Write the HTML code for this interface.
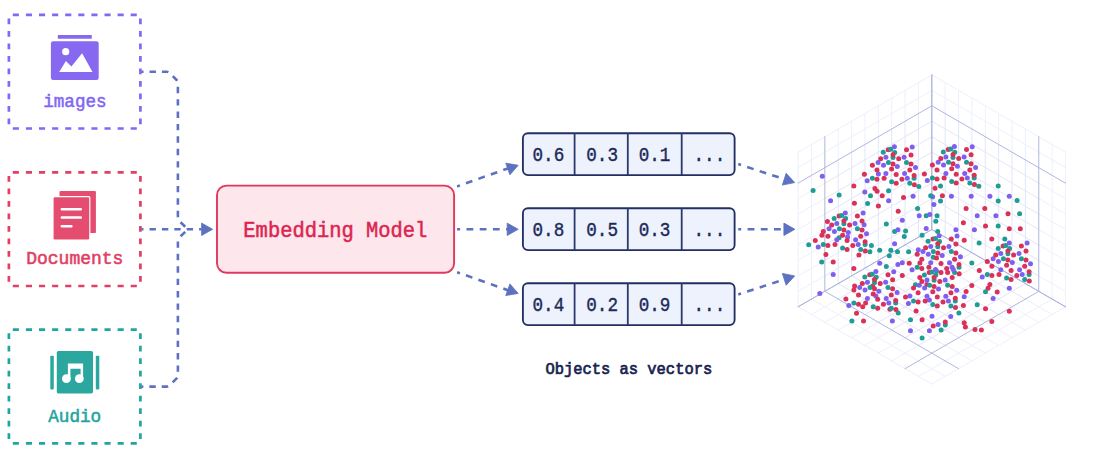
<!DOCTYPE html>
<html lang="en">
<head>
<meta charset="utf-8">
<title>Embedding model: objects as vectors</title>
<style>
html,body{margin:0;padding:0;background:#fff;}
body{width:1099px;height:455px;overflow:hidden;}
svg{display:block;}
svg text{font-family:'Liberation Mono', 'DejaVu Sans Mono', monospace;font-weight:400;paint-order:stroke fill;}
</style>
</head>
<body>
<svg width="1099" height="455" viewBox="0 0 1099 455">
<rect width="1099" height="455" fill="#fff"/>
<g fill="none" stroke="#8568F2" stroke-width="2.7">
<path d="M8.9 14.9H140.4 M8.9 128.5H140.4" stroke-dasharray="6.1 7" stroke-dashoffset="-3.9"/>
<path d="M8.9 14.9V128.5 M140.4 14.9V128.5" stroke-dasharray="5.8 6.7" stroke-dashoffset="-3.6"/>
</g>
<g fill="none" stroke="#E23F66" stroke-width="2.7">
<path d="M8.9 172.3H140.4 M8.9 286H140.4" stroke-dasharray="6.1 7" stroke-dashoffset="-3.9"/>
<path d="M8.9 172.3V286 M140.4 172.3V286" stroke-dasharray="5.8 6.7" stroke-dashoffset="-3.6"/>
</g>
<g fill="none" stroke="#22A5A0" stroke-width="2.7">
<path d="M8.9 329.6H140.4 M8.9 443.4H140.4" stroke-dasharray="6.1 7" stroke-dashoffset="-3.9"/>
<path d="M8.9 329.6V443.4 M140.4 329.6V443.4" stroke-dasharray="5.8 6.7" stroke-dashoffset="-3.6"/>
</g>
<g fill="#8769F1">
<rect x="57.8" y="34.9" width="34" height="3.9" rx="0.6"/>
<rect x="50.9" y="41.2" width="47.8" height="38.8" rx="2.2"/>
</g>
<g fill="#fff">
<circle cx="65.7" cy="51.7" r="3.6"/>
<path d="M59.2 71.9 L65.9 61 L71.4 66.6 L82.1 53.2 L92.5 71.9 Z"/>
</g>
<g fill="#E44C70">
<rect x="59.5" y="190.9" width="36.4" height="42.2" rx="1.2"/>
<rect x="52.4" y="196.1" width="38" height="44.6" rx="1.6" fill="#fff"/>
<rect x="53.6" y="197.3" width="35.6" height="42.2" rx="1.2"/>
</g>
<g stroke="#fff" stroke-width="2.5" stroke-linecap="round">
<path d="M61.8 209.2H80.8M61.8 217.4H80.8M61.8 226.2H71.4"/>
</g>
<g fill="#2BA7A0">
<rect x="56.8" y="350.9" width="36.2" height="42.5" rx="1.6"/>
<rect x="50.3" y="355.8" width="3.5" height="33.6" rx="0.8"/>
<rect x="95.8" y="355.8" width="3.5" height="33.6" rx="0.8"/>
</g>
<g fill="#fff">
<circle cx="66.4" cy="378.7" r="4.4"/>
<circle cx="79.3" cy="378.7" r="4.4"/>
<path d="M67.9 363.4H83.1V378.6H80.6V368.8H70.4V378.6H67.9Z"/>
</g>
<text x="74.9" y="106.5" font-size="17.6" fill="#8266F3" text-anchor="middle" stroke="#8266F3" stroke-width="0.5">images</text>
<text x="74.8" y="264.4" font-size="18" fill="#E13E64" text-anchor="middle" stroke="#E13E64" stroke-width="0.55">Documents</text>
<text x="74.7" y="422" font-size="17.7" fill="#1FA3A0" text-anchor="middle" stroke="#1FA3A0" stroke-width="0.5">Audio</text>
<g fill="none" stroke="#5C71BF" stroke-width="2.6" stroke-dasharray="6.4 6">
<path d="M190.5 229.3 Q188 229.3 186.6 228 L179.2 221 Q177.9 219.8 177.9 217.5 V83 Q177.9 81.2 176.6 80 L169.6 73 Q168.4 71.8 166.5 71.8 H141.4" stroke-dasharray="6.4 6" stroke-dashoffset="6.4"/>
<path d="M190.5 229.3 Q188 229.3 186.6 230.6 L179.2 237.6 Q177.9 238.8 177.9 241 V375.4 Q177.9 377.2 176.6 378.4 L169.6 385.4 Q168.4 386.6 166.5 386.6 H141.4" stroke-dasharray="6.4 6" stroke-dashoffset="6.4"/>
<path d="M201.5 229.3 H141.4" stroke-dashoffset="4"/>
<path d="M457.1 186.4 L508.5 168.2" stroke-dasharray="6.8 6.4" stroke-dashoffset="3.8"/>
<path d="M457.1 229.3 H508" stroke-dasharray="6.8 6.4" stroke-dashoffset="3.8"/>
<path d="M457.1 272.2 L508.5 290.4" stroke-dasharray="6.8 6.4" stroke-dashoffset="3.8"/>
<path d="M738.2 164.1 L785 179.4" stroke-dasharray="6.8 6.4" stroke-dashoffset="3.8"/>
<path d="M738.2 229.3 H785" stroke-dasharray="6.8 6.4" stroke-dashoffset="3.8"/>
<path d="M738.2 294.5 L785 279.2" stroke-dasharray="6.8 6.4" stroke-dashoffset="3.8"/>
</g>
<g fill="#5C71BF" stroke="#5C71BF" stroke-width="0.8" stroke-linejoin="round">
<path d="M212.6 229.3 L201.6 235.5 L201.6 223.1 Z"/>
<path d="M518.2 165.3 L509.9 174.82 L505.76 163.13 Z"/>
<path d="M518.2 229.3 L507.2 235.5 L507.2 223.1 Z"/>
<path d="M518.2 293.4 L505.76 295.57 L509.9 283.88 Z"/>
<path d="M794.7 182.6 L782.32 185.08 L786.17 173.29 Z"/>
<path d="M794.9 229.3 L783.9 235.5 L783.9 223.1 Z"/>
<path d="M794.7 275.9 L786.17 285.21 L782.32 273.42 Z"/>
</g>
<rect x="217" y="185.6" width="237.1" height="87.2" rx="9.5" fill="#FDE6EC" stroke="#E2375D" stroke-width="1.9"/>
<text transform="translate(335.3 236.6) scale(0.96 1)" font-size="21.3" fill="#DC2450" text-anchor="middle" stroke="#DC2450" stroke-width="0.5">Embedding Model</text>
<rect x="522.9" y="133.2" width="211.7" height="41.9" rx="5" fill="#EEF2FC" stroke="#232F62" stroke-width="1.85"/>
<path d="M574.6 133.2V175.1 M627.8 133.2V175.1 M681.7 133.2V175.1" stroke="#2B3A6C" stroke-width="1.8" fill="none"/>
<text transform="translate(548.35 161.2) scale(0.89 1)" font-size="19.8" fill="#1C2A5A" text-anchor="middle" stroke="#1C2A5A" stroke-width="0.4">0.6</text>
<text transform="translate(602.1 161.2) scale(0.89 1)" font-size="19.8" fill="#1C2A5A" text-anchor="middle" stroke="#1C2A5A" stroke-width="0.4">0.3</text>
<text transform="translate(654.55 161.2) scale(0.89 1)" font-size="19.8" fill="#1C2A5A" text-anchor="middle" stroke="#1C2A5A" stroke-width="0.4">0.1</text>
<text transform="translate(709.35 161.2) scale(0.89 1)" font-size="19.8" fill="#1C2A5A" text-anchor="middle" stroke="#1C2A5A" stroke-width="0.4">...</text>
<rect x="522.9" y="208.2" width="211.7" height="41.9" rx="5" fill="#EEF2FC" stroke="#232F62" stroke-width="1.85"/>
<path d="M574.6 208.2V250.1 M627.8 208.2V250.1 M681.7 208.2V250.1" stroke="#2B3A6C" stroke-width="1.8" fill="none"/>
<text transform="translate(548.35 236.2) scale(0.89 1)" font-size="19.8" fill="#1C2A5A" text-anchor="middle" stroke="#1C2A5A" stroke-width="0.4">0.8</text>
<text transform="translate(602.1 236.2) scale(0.89 1)" font-size="19.8" fill="#1C2A5A" text-anchor="middle" stroke="#1C2A5A" stroke-width="0.4">0.5</text>
<text transform="translate(654.55 236.2) scale(0.89 1)" font-size="19.8" fill="#1C2A5A" text-anchor="middle" stroke="#1C2A5A" stroke-width="0.4">0.3</text>
<text transform="translate(709.35 236.2) scale(0.89 1)" font-size="19.8" fill="#1C2A5A" text-anchor="middle" stroke="#1C2A5A" stroke-width="0.4">...</text>
<rect x="522.9" y="283.2" width="211.7" height="41.9" rx="5" fill="#EEF2FC" stroke="#232F62" stroke-width="1.85"/>
<path d="M574.6 283.2V325.1 M627.8 283.2V325.1 M681.7 283.2V325.1" stroke="#2B3A6C" stroke-width="1.8" fill="none"/>
<text transform="translate(548.35 311.2) scale(0.89 1)" font-size="19.8" fill="#1C2A5A" text-anchor="middle" stroke="#1C2A5A" stroke-width="0.4">0.4</text>
<text transform="translate(602.1 311.2) scale(0.89 1)" font-size="19.8" fill="#1C2A5A" text-anchor="middle" stroke="#1C2A5A" stroke-width="0.4">0.2</text>
<text transform="translate(654.55 311.2) scale(0.89 1)" font-size="19.8" fill="#1C2A5A" text-anchor="middle" stroke="#1C2A5A" stroke-width="0.4">0.9</text>
<text transform="translate(709.35 311.2) scale(0.89 1)" font-size="19.8" fill="#1C2A5A" text-anchor="middle" stroke="#1C2A5A" stroke-width="0.4">...</text>
<text transform="translate(628.8 374.4) scale(0.96 1)" font-size="16.1" fill="#16224F" text-anchor="middle" stroke="#16224F" stroke-width="0.7">Objects as vectors</text>
<g fill="none" stroke-linecap="round">
<path d="M918.43 237.23L918.43 113.55" stroke="#E3E6F9" stroke-width="1"/>
<path d="M918.43 113.55L918.43 82.63" stroke="#EEF0FC" stroke-width="1"/>
<path d="M931.8 214.04L824.84 275.88" stroke="#E3E6F9" stroke-width="1"/>
<path d="M824.84 275.88L798.1 291.34" stroke="#EEF0FC" stroke-width="1"/>
<path d="M905.06 244.96L905.06 121.28" stroke="#E3E6F9" stroke-width="1"/>
<path d="M905.06 121.28L905.06 90.36" stroke="#EEF0FC" stroke-width="1"/>
<path d="M931.8 198.58L824.84 260.42" stroke="#E3E6F9" stroke-width="1"/>
<path d="M824.84 260.42L798.1 275.88" stroke="#EEF0FC" stroke-width="1"/>
<path d="M891.69 252.69L891.69 129.01" stroke="#E3E6F9" stroke-width="1"/>
<path d="M891.69 129.01L891.69 98.09" stroke="#EEF0FC" stroke-width="1"/>
<path d="M931.8 183.12L824.84 244.96" stroke="#E3E6F9" stroke-width="1"/>
<path d="M824.84 244.96L798.1 260.42" stroke="#EEF0FC" stroke-width="1"/>
<path d="M878.32 260.42L878.32 136.74" stroke="#E3E6F9" stroke-width="1"/>
<path d="M878.32 136.74L878.32 105.82" stroke="#EEF0FC" stroke-width="1"/>
<path d="M931.8 167.66L824.84 229.5" stroke="#E3E6F9" stroke-width="1"/>
<path d="M824.84 229.5L798.1 244.96" stroke="#EEF0FC" stroke-width="1"/>
<path d="M864.95 268.15L864.95 144.47" stroke="#E3E6F9" stroke-width="1"/>
<path d="M864.95 144.47L864.95 113.55" stroke="#EEF0FC" stroke-width="1"/>
<path d="M931.8 152.2L824.84 214.04" stroke="#E3E6F9" stroke-width="1"/>
<path d="M824.84 214.04L798.1 229.5" stroke="#EEF0FC" stroke-width="1"/>
<path d="M851.58 275.88L851.58 152.2" stroke="#E3E6F9" stroke-width="1"/>
<path d="M851.58 152.2L851.58 121.28" stroke="#EEF0FC" stroke-width="1"/>
<path d="M931.8 136.74L824.84 198.58" stroke="#E3E6F9" stroke-width="1"/>
<path d="M824.84 198.58L798.1 214.04" stroke="#EEF0FC" stroke-width="1"/>
<path d="M838.21 283.61L838.21 159.93" stroke="#E3E6F9" stroke-width="1"/>
<path d="M838.21 159.93L838.21 129.01" stroke="#EEF0FC" stroke-width="1"/>
<path d="M931.8 121.28L824.84 183.12" stroke="#E3E6F9" stroke-width="1"/>
<path d="M824.84 183.12L798.1 198.58" stroke="#EEF0FC" stroke-width="1"/>
<path d="M811.47 299.07L811.47 175.39" stroke="#EEF0FC" stroke-width="1"/>
<path d="M811.47 175.39L811.47 144.47" stroke="#EEF0FC" stroke-width="1"/>
<path d="M931.8 90.36L824.84 152.2" stroke="#EEF0FC" stroke-width="1"/>
<path d="M824.84 152.2L798.1 167.66" stroke="#EEF0FC" stroke-width="1"/>
<path d="M798.1 306.8L798.1 183.12" stroke="#EEF0FC" stroke-width="1"/>
<path d="M798.1 183.12L798.1 152.2" stroke="#EEF0FC" stroke-width="1"/>
<path d="M931.8 74.9L824.84 136.74" stroke="#EEF0FC" stroke-width="1"/>
<path d="M824.84 136.74L798.1 152.2" stroke="#EEF0FC" stroke-width="1"/>
<path d="M945.17 237.23L945.17 113.55" stroke="#E3E6F9" stroke-width="1"/>
<path d="M945.17 113.55L945.17 82.63" stroke="#EEF0FC" stroke-width="1"/>
<path d="M931.8 214.04L1038.76 275.88" stroke="#E3E6F9" stroke-width="1"/>
<path d="M1038.76 275.88L1065.5 291.34" stroke="#EEF0FC" stroke-width="1"/>
<path d="M958.54 244.96L958.54 121.28" stroke="#E3E6F9" stroke-width="1"/>
<path d="M958.54 121.28L958.54 90.36" stroke="#EEF0FC" stroke-width="1"/>
<path d="M931.8 198.58L1038.76 260.42" stroke="#E3E6F9" stroke-width="1"/>
<path d="M1038.76 260.42L1065.5 275.88" stroke="#EEF0FC" stroke-width="1"/>
<path d="M971.91 252.69L971.91 129.01" stroke="#E3E6F9" stroke-width="1"/>
<path d="M971.91 129.01L971.91 98.09" stroke="#EEF0FC" stroke-width="1"/>
<path d="M931.8 183.12L1038.76 244.96" stroke="#E3E6F9" stroke-width="1"/>
<path d="M1038.76 244.96L1065.5 260.42" stroke="#EEF0FC" stroke-width="1"/>
<path d="M985.28 260.42L985.28 136.74" stroke="#E3E6F9" stroke-width="1"/>
<path d="M985.28 136.74L985.28 105.82" stroke="#EEF0FC" stroke-width="1"/>
<path d="M931.8 167.66L1038.76 229.5" stroke="#E3E6F9" stroke-width="1"/>
<path d="M1038.76 229.5L1065.5 244.96" stroke="#EEF0FC" stroke-width="1"/>
<path d="M998.65 268.15L998.65 144.47" stroke="#E3E6F9" stroke-width="1"/>
<path d="M998.65 144.47L998.65 113.55" stroke="#EEF0FC" stroke-width="1"/>
<path d="M931.8 152.2L1038.76 214.04" stroke="#E3E6F9" stroke-width="1"/>
<path d="M1038.76 214.04L1065.5 229.5" stroke="#EEF0FC" stroke-width="1"/>
<path d="M1012.02 275.88L1012.02 152.2" stroke="#E3E6F9" stroke-width="1"/>
<path d="M1012.02 152.2L1012.02 121.28" stroke="#EEF0FC" stroke-width="1"/>
<path d="M931.8 136.74L1038.76 198.58" stroke="#E3E6F9" stroke-width="1"/>
<path d="M1038.76 198.58L1065.5 214.04" stroke="#EEF0FC" stroke-width="1"/>
<path d="M1025.39 283.61L1025.39 159.93" stroke="#E3E6F9" stroke-width="1"/>
<path d="M1025.39 159.93L1025.39 129.01" stroke="#EEF0FC" stroke-width="1"/>
<path d="M931.8 121.28L1038.76 183.12" stroke="#E3E6F9" stroke-width="1"/>
<path d="M1038.76 183.12L1065.5 198.58" stroke="#EEF0FC" stroke-width="1"/>
<path d="M1052.13 299.07L1052.13 175.39" stroke="#EEF0FC" stroke-width="1"/>
<path d="M1052.13 175.39L1052.13 144.47" stroke="#EEF0FC" stroke-width="1"/>
<path d="M931.8 90.36L1038.76 152.2" stroke="#EEF0FC" stroke-width="1"/>
<path d="M1038.76 152.2L1065.5 167.66" stroke="#EEF0FC" stroke-width="1"/>
<path d="M1065.5 306.8L1065.5 183.12" stroke="#EEF0FC" stroke-width="1"/>
<path d="M1065.5 183.12L1065.5 152.2" stroke="#EEF0FC" stroke-width="1"/>
<path d="M931.8 74.9L1038.76 136.74" stroke="#EEF0FC" stroke-width="1"/>
<path d="M1038.76 136.74L1065.5 152.2" stroke="#EEF0FC" stroke-width="1"/>
<path d="M918.43 237.23L1025.39 299.07" stroke="#E3E6F9" stroke-width="1"/>
<path d="M1025.39 299.07L1052.13 314.53" stroke="#EEF0FC" stroke-width="1"/>
<path d="M945.17 237.23L838.21 299.07" stroke="#E3E6F9" stroke-width="1"/>
<path d="M838.21 299.07L811.47 314.53" stroke="#EEF0FC" stroke-width="1"/>
<path d="M905.06 244.96L1012.02 306.8" stroke="#E3E6F9" stroke-width="1"/>
<path d="M1012.02 306.8L1038.76 322.26" stroke="#EEF0FC" stroke-width="1"/>
<path d="M958.54 244.96L851.58 306.8" stroke="#E3E6F9" stroke-width="1"/>
<path d="M851.58 306.8L824.84 322.26" stroke="#EEF0FC" stroke-width="1"/>
<path d="M891.69 252.69L998.65 314.53" stroke="#E3E6F9" stroke-width="1"/>
<path d="M998.65 314.53L1025.39 329.99" stroke="#EEF0FC" stroke-width="1"/>
<path d="M971.91 252.69L864.95 314.53" stroke="#E3E6F9" stroke-width="1"/>
<path d="M864.95 314.53L838.21 329.99" stroke="#EEF0FC" stroke-width="1"/>
<path d="M878.32 260.42L985.28 322.26" stroke="#E3E6F9" stroke-width="1"/>
<path d="M985.28 322.26L1012.02 337.72" stroke="#EEF0FC" stroke-width="1"/>
<path d="M985.28 260.42L878.32 322.26" stroke="#E3E6F9" stroke-width="1"/>
<path d="M878.32 322.26L851.58 337.72" stroke="#EEF0FC" stroke-width="1"/>
<path d="M864.95 268.15L971.91 329.99" stroke="#E3E6F9" stroke-width="1"/>
<path d="M971.91 329.99L998.65 345.45" stroke="#EEF0FC" stroke-width="1"/>
<path d="M998.65 268.15L891.69 329.99" stroke="#E3E6F9" stroke-width="1"/>
<path d="M891.69 329.99L864.95 345.45" stroke="#EEF0FC" stroke-width="1"/>
<path d="M851.58 275.88L958.54 337.72" stroke="#E3E6F9" stroke-width="1"/>
<path d="M958.54 337.72L985.28 353.18" stroke="#EEF0FC" stroke-width="1"/>
<path d="M1012.02 275.88L905.06 337.72" stroke="#E3E6F9" stroke-width="1"/>
<path d="M905.06 337.72L878.32 353.18" stroke="#EEF0FC" stroke-width="1"/>
<path d="M838.21 283.61L945.17 345.45" stroke="#E3E6F9" stroke-width="1"/>
<path d="M945.17 345.45L971.91 360.91" stroke="#EEF0FC" stroke-width="1"/>
<path d="M1025.39 283.61L918.43 345.45" stroke="#E3E6F9" stroke-width="1"/>
<path d="M918.43 345.45L891.69 360.91" stroke="#EEF0FC" stroke-width="1"/>
<path d="M811.47 299.07L918.43 360.91" stroke="#EEF0FC" stroke-width="1"/>
<path d="M918.43 360.91L945.17 376.37" stroke="#EEF0FC" stroke-width="1"/>
<path d="M1052.13 299.07L945.17 360.91" stroke="#EEF0FC" stroke-width="1"/>
<path d="M945.17 360.91L918.43 376.37" stroke="#EEF0FC" stroke-width="1"/>
<path d="M798.1 306.8L905.06 368.64" stroke="#EEF0FC" stroke-width="1"/>
<path d="M905.06 368.64L931.8 384.1" stroke="#EEF0FC" stroke-width="1"/>
<path d="M1065.5 306.8L958.54 368.64" stroke="#EEF0FC" stroke-width="1"/>
<path d="M958.54 368.64L931.8 384.1" stroke="#EEF0FC" stroke-width="1"/>
<path d="M931.8 229.5L931.8 74.9" stroke="#AFB7E0" stroke-width="1"/>
<path d="M931.8 229.5L798.1 306.8" stroke="#AFB7E0" stroke-width="1"/>
<path d="M824.84 291.34L824.84 136.74" stroke="#AFB7E0" stroke-width="1"/>
<path d="M931.8 105.82L798.1 183.12" stroke="#AFB7E0" stroke-width="1"/>
<path d="M931.8 229.5L931.8 74.9" stroke="#AFB7E0" stroke-width="1"/>
<path d="M931.8 229.5L1065.5 306.8" stroke="#AFB7E0" stroke-width="1"/>
<path d="M1038.76 291.34L1038.76 136.74" stroke="#AFB7E0" stroke-width="1"/>
<path d="M931.8 105.82L1065.5 183.12" stroke="#AFB7E0" stroke-width="1"/>
<path d="M931.8 229.5L1065.5 306.8" stroke="#AFB7E0" stroke-width="1"/>
<path d="M931.8 229.5L798.1 306.8" stroke="#AFB7E0" stroke-width="1"/>
<path d="M824.84 291.34L958.54 368.64" stroke="#AFB7E0" stroke-width="1"/>
<path d="M1038.76 291.34L905.06 368.64" stroke="#AFB7E0" stroke-width="1"/>
</g>
<g>
<circle cx="822.3" cy="176.2" r="2.5" fill="#7E5FF0"/>
<circle cx="813.1" cy="190.5" r="2.5" fill="#1F9D95"/>
<circle cx="853.8" cy="186" r="2.5" fill="#DB3058"/>
<circle cx="878.4" cy="173.9" r="2.5" fill="#7E5FF0"/>
<circle cx="864.8" cy="192.1" r="2.5" fill="#7E5FF0"/>
<circle cx="888.6" cy="190.7" r="2.5" fill="#1F9D95"/>
<circle cx="830.6" cy="200.8" r="2.5" fill="#7E5FF0"/>
<circle cx="839.1" cy="195" r="2.5" fill="#1F9D95"/>
<circle cx="854.4" cy="203.3" r="2.5" fill="#DB3058"/>
<circle cx="867.6" cy="203.6" r="2.5" fill="#1F9D95"/>
<circle cx="870.5" cy="195.7" r="2.5" fill="#1F9D95"/>
<circle cx="877.1" cy="191.2" r="2.5" fill="#DB3058"/>
<circle cx="882.2" cy="195.7" r="2.5" fill="#DB3058"/>
<circle cx="878.4" cy="206.1" r="2.5" fill="#DB3058"/>
<circle cx="888.6" cy="200.8" r="2.5" fill="#7E5FF0"/>
<circle cx="903.5" cy="197.6" r="2.5" fill="#DB3058"/>
<circle cx="898.2" cy="211.2" r="2.5" fill="#DB3058"/>
<circle cx="913.1" cy="196.3" r="2.5" fill="#7E5FF0"/>
<circle cx="917.6" cy="208.4" r="2.5" fill="#1F9D95"/>
<circle cx="932.6" cy="196.7" r="2.5" fill="#7E5FF0"/>
<circle cx="930.7" cy="195.7" r="2.5" fill="#1F9D95"/>
<circle cx="933.9" cy="204.6" r="2.5" fill="#7E5FF0"/>
<circle cx="919.2" cy="215.7" r="2.5" fill="#7E5FF0"/>
<circle cx="926.2" cy="215.7" r="2.5" fill="#1F9D95"/>
<circle cx="929.7" cy="214.4" r="2.5" fill="#7E5FF0"/>
<circle cx="937.1" cy="215.7" r="2.5" fill="#1F9D95"/>
<circle cx="935.8" cy="221.2" r="2.5" fill="#1F9D95"/>
<circle cx="902.3" cy="220.3" r="2.5" fill="#7E5FF0"/>
<circle cx="886.3" cy="224.1" r="2.5" fill="#1F9D95"/>
<circle cx="894.6" cy="231.4" r="2.5" fill="#1F9D95"/>
<circle cx="897.9" cy="229.7" r="2.5" fill="#7E5FF0"/>
<circle cx="905.6" cy="231.1" r="2.5" fill="#1F9D95"/>
<circle cx="904.3" cy="236.5" r="2.5" fill="#1F9D95"/>
<circle cx="926.2" cy="228.5" r="2.5" fill="#7E5FF0"/>
<circle cx="922.1" cy="235.2" r="2.5" fill="#1F9D95"/>
<circle cx="894.6" cy="243.7" r="2.5" fill="#7E5FF0"/>
<circle cx="937.7" cy="231.4" r="2.5" fill="#1F9D95"/>
<circle cx="827.4" cy="221.4" r="2.5" fill="#DB3058"/>
<circle cx="864.1" cy="224.7" r="2.5" fill="#7E5FF0"/>
<circle cx="821.9" cy="235.2" r="2.5" fill="#DB3058"/>
<circle cx="839.1" cy="237.7" r="2.5" fill="#1F9D95"/>
<circle cx="847.6" cy="237.1" r="2.5" fill="#7E5FF0"/>
<circle cx="808.7" cy="244.7" r="2.5" fill="#1F9D95"/>
<circle cx="871.4" cy="245.4" r="2.5" fill="#1F9D95"/>
<circle cx="869.9" cy="251.8" r="2.5" fill="#1F9D95"/>
<circle cx="879.7" cy="250.2" r="2.5" fill="#1F9D95"/>
<circle cx="890.8" cy="250.2" r="2.5" fill="#1F9D95"/>
<circle cx="889.3" cy="255.7" r="2.5" fill="#1F9D95"/>
<circle cx="897.5" cy="251.8" r="2.5" fill="#1F9D95"/>
<circle cx="908.6" cy="251.8" r="2.5" fill="#1F9D95"/>
<circle cx="858.9" cy="255" r="2.5" fill="#DB3058"/>
<circle cx="821.7" cy="262" r="2.5" fill="#1F9D95"/>
<circle cx="833.2" cy="262" r="2.5" fill="#DB3058"/>
<circle cx="853.8" cy="268.4" r="2.5" fill="#DB3058"/>
<circle cx="833.2" cy="274.4" r="2.5" fill="#7E5FF0"/>
<circle cx="819.8" cy="293.5" r="2.5" fill="#7E5FF0"/>
<circle cx="879.7" cy="263.3" r="2.5" fill="#7E5FF0"/>
<circle cx="886.3" cy="266.5" r="2.5" fill="#1F9D95"/>
<circle cx="897.9" cy="264.6" r="2.5" fill="#7E5FF0"/>
<circle cx="902.3" cy="262.7" r="2.5" fill="#7E5FF0"/>
<circle cx="902.3" cy="275.4" r="2.5" fill="#DB3058"/>
<circle cx="854.6" cy="285.9" r="2.5" fill="#DB3058"/>
<circle cx="872.7" cy="285.9" r="2.5" fill="#DB3058"/>
<circle cx="875.9" cy="296.1" r="2.5" fill="#7E5FF0"/>
<circle cx="909.9" cy="296.1" r="2.5" fill="#7E5FF0"/>
<circle cx="918.3" cy="249.7" r="2.5" fill="#7E5FF0"/>
<circle cx="919.9" cy="262.9" r="2.5" fill="#DB3058"/>
<circle cx="933.2" cy="257.3" r="2.5" fill="#1F9D95"/>
<circle cx="915.4" cy="284.7" r="2.5" fill="#1F9D95"/>
<circle cx="926.9" cy="284.6" r="2.5" fill="#DB3058"/>
<circle cx="929.4" cy="300.1" r="2.5" fill="#7E5FF0"/>
<circle cx="862.7" cy="306.8" r="2.5" fill="#DB3058"/>
<circle cx="889.9" cy="309.3" r="2.5" fill="#DB3058"/>
<circle cx="898.2" cy="313.1" r="2.5" fill="#1F9D95"/>
<circle cx="851.9" cy="321" r="2.5" fill="#1F9D95"/>
<circle cx="863.5" cy="321" r="2.5" fill="#DB3058"/>
<circle cx="892.4" cy="321" r="2.5" fill="#7E5FF0"/>
<circle cx="910.5" cy="319.8" r="2.5" fill="#1F9D95"/>
<circle cx="922.1" cy="319.8" r="2.5" fill="#DB3058"/>
<circle cx="932" cy="316.3" r="2.5" fill="#7E5FF0"/>
<circle cx="933.2" cy="326.1" r="2.5" fill="#DB3058"/>
<circle cx="938.1" cy="324.6" r="2.5" fill="#7E5FF0"/>
<circle cx="910.5" cy="330.7" r="2.5" fill="#7E5FF0"/>
<circle cx="929.4" cy="330.7" r="2.5" fill="#7E5FF0"/>
<circle cx="922.1" cy="338" r="2.5" fill="#1F9D95"/>
<circle cx="998.2" cy="186" r="2.5" fill="#1F9D95"/>
<circle cx="940.5" cy="186" r="2.5" fill="#1F9D95"/>
<circle cx="942.4" cy="195.7" r="2.5" fill="#DB3058"/>
<circle cx="940.5" cy="201.1" r="2.5" fill="#1F9D95"/>
<circle cx="951.4" cy="196.3" r="2.5" fill="#7E5FF0"/>
<circle cx="971.2" cy="196.3" r="2.5" fill="#7E5FF0"/>
<circle cx="989.9" cy="196.3" r="2.5" fill="#7E5FF0"/>
<circle cx="1009.3" cy="196.3" r="2.5" fill="#7E5FF0"/>
<circle cx="998.2" cy="201.1" r="2.5" fill="#1F9D95"/>
<circle cx="1017.1" cy="200.4" r="2.5" fill="#1F9D95"/>
<circle cx="966.1" cy="208.4" r="2.5" fill="#DB3058"/>
<circle cx="984.8" cy="208.4" r="2.5" fill="#DB3058"/>
<circle cx="1008" cy="213.8" r="2.5" fill="#DB3058"/>
<circle cx="1019.6" cy="213.8" r="2.5" fill="#1F9D95"/>
<circle cx="977.2" cy="215.7" r="2.5" fill="#7E5FF0"/>
<circle cx="995.9" cy="215.7" r="2.5" fill="#7E5FF0"/>
<circle cx="963.4" cy="222.7" r="2.5" fill="#DB3058"/>
<circle cx="985.5" cy="225.9" r="2.5" fill="#DB3058"/>
<circle cx="998.2" cy="225.9" r="2.5" fill="#1F9D95"/>
<circle cx="1009.3" cy="228.8" r="2.5" fill="#DB3058"/>
<circle cx="1020.3" cy="228.8" r="2.5" fill="#DB3058"/>
<circle cx="955.9" cy="229.7" r="2.5" fill="#7E5FF0"/>
<circle cx="974.4" cy="229.7" r="2.5" fill="#7E5FF0"/>
<circle cx="964.2" cy="240.3" r="2.5" fill="#DB3058"/>
<circle cx="991.8" cy="239" r="2.5" fill="#DB3058"/>
<circle cx="1004.8" cy="239" r="2.5" fill="#1F9D95"/>
<circle cx="979.1" cy="243.1" r="2.5" fill="#1F9D95"/>
<circle cx="971.8" cy="262.9" r="2.5" fill="#1F9D95"/>
<circle cx="971.8" cy="285.4" r="2.5" fill="#DB3058"/>
<circle cx="988" cy="288.2" r="2.5" fill="#DB3058"/>
<circle cx="985.5" cy="291.7" r="2.5" fill="#1F9D95"/>
<circle cx="997.2" cy="292" r="2.5" fill="#DB3058"/>
<circle cx="966.1" cy="291.4" r="2.5" fill="#DB3058"/>
<circle cx="964.2" cy="296.7" r="2.5" fill="#7E5FF0"/>
<circle cx="1009.3" cy="288.2" r="2.5" fill="#7E5FF0"/>
<circle cx="993.1" cy="298.6" r="2.5" fill="#7E5FF0"/>
<circle cx="963.4" cy="305.5" r="2.5" fill="#DB3058"/>
<circle cx="977.2" cy="304.8" r="2.5" fill="#1F9D95"/>
<circle cx="985.5" cy="308.7" r="2.5" fill="#DB3058"/>
<circle cx="958.9" cy="313.1" r="2.5" fill="#1F9D95"/>
<circle cx="950.7" cy="316.6" r="2.5" fill="#7E5FF0"/>
<circle cx="1009.3" cy="311.2" r="2.5" fill="#DB3058"/>
<circle cx="991.8" cy="321.4" r="2.5" fill="#DB3058"/>
<circle cx="945.3" cy="324.9" r="2.5" fill="#1F9D95"/>
<circle cx="945.3" cy="322.1" r="2.5" fill="#DB3058"/>
<circle cx="941.1" cy="330" r="2.5" fill="#1F9D95"/>
<circle cx="964.2" cy="322.7" r="2.5" fill="#DB3058"/>
<circle cx="965.4" cy="326.9" r="2.5" fill="#DB3058"/>
<circle cx="975" cy="329.4" r="2.5" fill="#DB3058"/>
<circle cx="981.4" cy="330.1" r="2.5" fill="#DB3058"/>
<circle cx="918.8" cy="186.5" r="2.5" fill="#1F9D95"/>
<circle cx="978.8" cy="186.3" r="2.5" fill="#1F9D95"/>
<circle cx="864.4" cy="174.2" r="2.5" fill="#DB3058"/>
<circle cx="867.2" cy="180.7" r="2.5" fill="#7E5FF0"/>
<circle cx="872.4" cy="178.2" r="2.5" fill="#1F9D95"/>
<circle cx="874.9" cy="188.4" r="2.5" fill="#DB3058"/>
<circle cx="872.4" cy="165.2" r="2.5" fill="#DB3058"/>
<circle cx="877" cy="170.1" r="2.5" fill="#DB3058"/>
<circle cx="877" cy="179.3" r="2.5" fill="#DB3058"/>
<circle cx="878.1" cy="162.5" r="2.5" fill="#7E5FF0"/>
<circle cx="880.7" cy="158.7" r="2.5" fill="#DB3058"/>
<circle cx="883.3" cy="152.2" r="2.5" fill="#1F9D95"/>
<circle cx="883.5" cy="165.2" r="2.5" fill="#7E5FF0"/>
<circle cx="884.1" cy="178.2" r="2.5" fill="#DB3058"/>
<circle cx="885.9" cy="157.3" r="2.5" fill="#7E5FF0"/>
<circle cx="885.9" cy="173.6" r="2.5" fill="#7E5FF0"/>
<circle cx="888.2" cy="149.8" r="2.5" fill="#DB3058"/>
<circle cx="890.7" cy="149.3" r="2.5" fill="#1F9D95"/>
<circle cx="888.4" cy="162.5" r="2.5" fill="#1F9D95"/>
<circle cx="891.6" cy="169" r="2.5" fill="#DB3058"/>
<circle cx="891.6" cy="181.8" r="2.5" fill="#1F9D95"/>
<circle cx="894.7" cy="152.4" r="2.5" fill="#1F9D95"/>
<circle cx="893" cy="157.6" r="2.5" fill="#1F9D95"/>
<circle cx="893" cy="154.7" r="2.5" fill="#DB3058"/>
<circle cx="893" cy="163.9" r="2.5" fill="#DB3058"/>
<circle cx="894.4" cy="146.7" r="2.5" fill="#7E5FF0"/>
<circle cx="896.2" cy="174.4" r="2.5" fill="#DB3058"/>
<circle cx="896.2" cy="183.3" r="2.5" fill="#DB3058"/>
<circle cx="897.3" cy="166.4" r="2.5" fill="#7E5FF0"/>
<circle cx="898.7" cy="158.7" r="2.5" fill="#DB3058"/>
<circle cx="901.9" cy="179.3" r="2.5" fill="#DB3058"/>
<circle cx="904.1" cy="157.3" r="2.5" fill="#7E5FF0"/>
<circle cx="904.6" cy="173.6" r="2.5" fill="#7E5FF0"/>
<circle cx="906.5" cy="149.8" r="2.5" fill="#DB3058"/>
<circle cx="906.5" cy="162.5" r="2.5" fill="#1F9D95"/>
<circle cx="907.3" cy="178.2" r="2.5" fill="#7E5FF0"/>
<circle cx="909.8" cy="170.1" r="2.5" fill="#DB3058"/>
<circle cx="909.8" cy="183.3" r="2.5" fill="#1F9D95"/>
<circle cx="911" cy="154.9" r="2.5" fill="#DB3058"/>
<circle cx="911" cy="163.9" r="2.5" fill="#DB3058"/>
<circle cx="912.2" cy="146.9" r="2.5" fill="#7E5FF0"/>
<circle cx="914.1" cy="178.2" r="2.5" fill="#1F9D95"/>
<circle cx="914.1" cy="175.5" r="2.5" fill="#DB3058"/>
<circle cx="914.4" cy="184.7" r="2.5" fill="#DB3058"/>
<circle cx="915.5" cy="167.6" r="2.5" fill="#7E5FF0"/>
<circle cx="924.4" cy="174" r="2.5" fill="#DB3058"/>
<circle cx="927.3" cy="180.5" r="2.5" fill="#7E5FF0"/>
<circle cx="932.4" cy="178" r="2.5" fill="#1F9D95"/>
<circle cx="935" cy="188.2" r="2.5" fill="#DB3058"/>
<circle cx="932.4" cy="165" r="2.5" fill="#DB3058"/>
<circle cx="937" cy="169.9" r="2.5" fill="#DB3058"/>
<circle cx="937" cy="179.1" r="2.5" fill="#DB3058"/>
<circle cx="938.2" cy="162.3" r="2.5" fill="#7E5FF0"/>
<circle cx="940.8" cy="158.5" r="2.5" fill="#DB3058"/>
<circle cx="943.3" cy="152" r="2.5" fill="#1F9D95"/>
<circle cx="943.5" cy="165" r="2.5" fill="#7E5FF0"/>
<circle cx="944.1" cy="178" r="2.5" fill="#DB3058"/>
<circle cx="945.9" cy="157.1" r="2.5" fill="#7E5FF0"/>
<circle cx="945.9" cy="173.4" r="2.5" fill="#7E5FF0"/>
<circle cx="948.2" cy="149.6" r="2.5" fill="#DB3058"/>
<circle cx="950.7" cy="149.1" r="2.5" fill="#1F9D95"/>
<circle cx="948.5" cy="162.3" r="2.5" fill="#1F9D95"/>
<circle cx="951.7" cy="168.8" r="2.5" fill="#DB3058"/>
<circle cx="951.7" cy="181.6" r="2.5" fill="#1F9D95"/>
<circle cx="954.7" cy="152.2" r="2.5" fill="#1F9D95"/>
<circle cx="953" cy="157.4" r="2.5" fill="#1F9D95"/>
<circle cx="953" cy="154.5" r="2.5" fill="#DB3058"/>
<circle cx="953" cy="163.7" r="2.5" fill="#DB3058"/>
<circle cx="954.4" cy="146.5" r="2.5" fill="#7E5FF0"/>
<circle cx="956.2" cy="174.2" r="2.5" fill="#DB3058"/>
<circle cx="956.2" cy="183.1" r="2.5" fill="#DB3058"/>
<circle cx="957.4" cy="166.2" r="2.5" fill="#7E5FF0"/>
<circle cx="958.7" cy="158.5" r="2.5" fill="#DB3058"/>
<circle cx="961.9" cy="179.1" r="2.5" fill="#DB3058"/>
<circle cx="964.1" cy="157.1" r="2.5" fill="#7E5FF0"/>
<circle cx="964.7" cy="173.4" r="2.5" fill="#7E5FF0"/>
<circle cx="966.5" cy="149.6" r="2.5" fill="#DB3058"/>
<circle cx="966.5" cy="162.3" r="2.5" fill="#1F9D95"/>
<circle cx="967.3" cy="178" r="2.5" fill="#7E5FF0"/>
<circle cx="969.8" cy="169.9" r="2.5" fill="#DB3058"/>
<circle cx="969.8" cy="183.1" r="2.5" fill="#1F9D95"/>
<circle cx="971.1" cy="154.7" r="2.5" fill="#DB3058"/>
<circle cx="971.1" cy="163.7" r="2.5" fill="#DB3058"/>
<circle cx="972.2" cy="146.7" r="2.5" fill="#7E5FF0"/>
<circle cx="974.2" cy="178" r="2.5" fill="#1F9D95"/>
<circle cx="974.2" cy="175.3" r="2.5" fill="#DB3058"/>
<circle cx="974.4" cy="184.5" r="2.5" fill="#DB3058"/>
<circle cx="975.6" cy="167.4" r="2.5" fill="#7E5FF0"/>
<circle cx="815.3" cy="240.4" r="2.5" fill="#DB3058"/>
<circle cx="818.2" cy="246.9" r="2.5" fill="#7E5FF0"/>
<circle cx="823.3" cy="244.4" r="2.5" fill="#1F9D95"/>
<circle cx="825.9" cy="254.6" r="2.5" fill="#DB3058"/>
<circle cx="823.3" cy="231.4" r="2.5" fill="#DB3058"/>
<circle cx="827.9" cy="236.3" r="2.5" fill="#DB3058"/>
<circle cx="827.9" cy="245.5" r="2.5" fill="#DB3058"/>
<circle cx="829.1" cy="228.7" r="2.5" fill="#7E5FF0"/>
<circle cx="831.7" cy="224.9" r="2.5" fill="#DB3058"/>
<circle cx="834.2" cy="218.4" r="2.5" fill="#1F9D95"/>
<circle cx="834.4" cy="231.4" r="2.5" fill="#7E5FF0"/>
<circle cx="835" cy="244.4" r="2.5" fill="#DB3058"/>
<circle cx="836.8" cy="223.5" r="2.5" fill="#7E5FF0"/>
<circle cx="836.8" cy="239.8" r="2.5" fill="#7E5FF0"/>
<circle cx="839.1" cy="216" r="2.5" fill="#DB3058"/>
<circle cx="841.6" cy="215.5" r="2.5" fill="#1F9D95"/>
<circle cx="839.4" cy="228.7" r="2.5" fill="#1F9D95"/>
<circle cx="842.6" cy="235.2" r="2.5" fill="#DB3058"/>
<circle cx="842.6" cy="248" r="2.5" fill="#1F9D95"/>
<circle cx="845.6" cy="218.6" r="2.5" fill="#1F9D95"/>
<circle cx="843.9" cy="223.8" r="2.5" fill="#1F9D95"/>
<circle cx="843.9" cy="220.9" r="2.5" fill="#DB3058"/>
<circle cx="843.9" cy="230.1" r="2.5" fill="#DB3058"/>
<circle cx="845.3" cy="212.9" r="2.5" fill="#7E5FF0"/>
<circle cx="847.1" cy="240.6" r="2.5" fill="#DB3058"/>
<circle cx="847.1" cy="249.5" r="2.5" fill="#DB3058"/>
<circle cx="848.3" cy="232.6" r="2.5" fill="#7E5FF0"/>
<circle cx="849.6" cy="224.9" r="2.5" fill="#DB3058"/>
<circle cx="852.8" cy="245.5" r="2.5" fill="#DB3058"/>
<circle cx="855" cy="223.5" r="2.5" fill="#7E5FF0"/>
<circle cx="855.6" cy="239.8" r="2.5" fill="#7E5FF0"/>
<circle cx="857.4" cy="216" r="2.5" fill="#DB3058"/>
<circle cx="857.4" cy="228.7" r="2.5" fill="#1F9D95"/>
<circle cx="858.2" cy="244.4" r="2.5" fill="#7E5FF0"/>
<circle cx="860.7" cy="236.3" r="2.5" fill="#DB3058"/>
<circle cx="860.7" cy="249.5" r="2.5" fill="#1F9D95"/>
<circle cx="862" cy="221.1" r="2.5" fill="#DB3058"/>
<circle cx="862" cy="230.1" r="2.5" fill="#DB3058"/>
<circle cx="863.1" cy="213.1" r="2.5" fill="#7E5FF0"/>
<circle cx="865.1" cy="244.4" r="2.5" fill="#1F9D95"/>
<circle cx="865.1" cy="241.7" r="2.5" fill="#DB3058"/>
<circle cx="865.3" cy="250.9" r="2.5" fill="#DB3058"/>
<circle cx="866.5" cy="233.8" r="2.5" fill="#7E5FF0"/>
<circle cx="909.2" cy="263.3" r="2.5" fill="#DB3058"/>
<circle cx="912.1" cy="269.8" r="2.5" fill="#7E5FF0"/>
<circle cx="917.2" cy="267.3" r="2.5" fill="#1F9D95"/>
<circle cx="919.8" cy="277.5" r="2.5" fill="#DB3058"/>
<circle cx="917.2" cy="254.3" r="2.5" fill="#DB3058"/>
<circle cx="921.8" cy="259.2" r="2.5" fill="#DB3058"/>
<circle cx="921.8" cy="268.4" r="2.5" fill="#DB3058"/>
<circle cx="923" cy="251.6" r="2.5" fill="#7E5FF0"/>
<circle cx="925.6" cy="247.8" r="2.5" fill="#DB3058"/>
<circle cx="928.1" cy="241.3" r="2.5" fill="#1F9D95"/>
<circle cx="928.3" cy="254.3" r="2.5" fill="#7E5FF0"/>
<circle cx="928.9" cy="267.3" r="2.5" fill="#DB3058"/>
<circle cx="930.7" cy="246.4" r="2.5" fill="#7E5FF0"/>
<circle cx="930.7" cy="262.7" r="2.5" fill="#7E5FF0"/>
<circle cx="933" cy="238.9" r="2.5" fill="#DB3058"/>
<circle cx="935.5" cy="238.4" r="2.5" fill="#1F9D95"/>
<circle cx="933.3" cy="251.6" r="2.5" fill="#1F9D95"/>
<circle cx="936.5" cy="258.1" r="2.5" fill="#DB3058"/>
<circle cx="936.5" cy="270.9" r="2.5" fill="#1F9D95"/>
<circle cx="939.5" cy="241.5" r="2.5" fill="#1F9D95"/>
<circle cx="937.8" cy="246.7" r="2.5" fill="#1F9D95"/>
<circle cx="937.8" cy="243.8" r="2.5" fill="#DB3058"/>
<circle cx="937.8" cy="253" r="2.5" fill="#DB3058"/>
<circle cx="939.2" cy="235.8" r="2.5" fill="#7E5FF0"/>
<circle cx="941" cy="263.5" r="2.5" fill="#DB3058"/>
<circle cx="941" cy="272.4" r="2.5" fill="#DB3058"/>
<circle cx="942.2" cy="255.5" r="2.5" fill="#7E5FF0"/>
<circle cx="943.5" cy="247.8" r="2.5" fill="#DB3058"/>
<circle cx="946.7" cy="268.4" r="2.5" fill="#DB3058"/>
<circle cx="948.9" cy="246.4" r="2.5" fill="#7E5FF0"/>
<circle cx="949.5" cy="262.7" r="2.5" fill="#7E5FF0"/>
<circle cx="951.3" cy="238.9" r="2.5" fill="#DB3058"/>
<circle cx="951.3" cy="251.6" r="2.5" fill="#1F9D95"/>
<circle cx="952.1" cy="267.3" r="2.5" fill="#7E5FF0"/>
<circle cx="954.6" cy="259.2" r="2.5" fill="#DB3058"/>
<circle cx="954.6" cy="272.4" r="2.5" fill="#1F9D95"/>
<circle cx="955.9" cy="244" r="2.5" fill="#DB3058"/>
<circle cx="955.9" cy="253" r="2.5" fill="#DB3058"/>
<circle cx="957" cy="236" r="2.5" fill="#7E5FF0"/>
<circle cx="959" cy="267.3" r="2.5" fill="#1F9D95"/>
<circle cx="959" cy="264.6" r="2.5" fill="#DB3058"/>
<circle cx="959.2" cy="273.8" r="2.5" fill="#DB3058"/>
<circle cx="960.4" cy="256.7" r="2.5" fill="#7E5FF0"/>
<circle cx="845.9" cy="299.1" r="2.5" fill="#DB3058"/>
<circle cx="848.8" cy="305.6" r="2.5" fill="#7E5FF0"/>
<circle cx="853.9" cy="303.1" r="2.5" fill="#1F9D95"/>
<circle cx="856.5" cy="313.3" r="2.5" fill="#DB3058"/>
<circle cx="853.9" cy="290.1" r="2.5" fill="#DB3058"/>
<circle cx="858.5" cy="295" r="2.5" fill="#DB3058"/>
<circle cx="858.5" cy="304.2" r="2.5" fill="#DB3058"/>
<circle cx="859.7" cy="287.4" r="2.5" fill="#7E5FF0"/>
<circle cx="862.3" cy="283.6" r="2.5" fill="#DB3058"/>
<circle cx="864.8" cy="277.1" r="2.5" fill="#1F9D95"/>
<circle cx="865" cy="290.1" r="2.5" fill="#7E5FF0"/>
<circle cx="865.6" cy="303.1" r="2.5" fill="#DB3058"/>
<circle cx="867.4" cy="282.2" r="2.5" fill="#7E5FF0"/>
<circle cx="867.4" cy="298.5" r="2.5" fill="#7E5FF0"/>
<circle cx="869.7" cy="274.7" r="2.5" fill="#DB3058"/>
<circle cx="872.2" cy="274.2" r="2.5" fill="#1F9D95"/>
<circle cx="870" cy="287.4" r="2.5" fill="#1F9D95"/>
<circle cx="873.2" cy="293.9" r="2.5" fill="#DB3058"/>
<circle cx="873.2" cy="306.7" r="2.5" fill="#1F9D95"/>
<circle cx="876.2" cy="277.3" r="2.5" fill="#1F9D95"/>
<circle cx="874.5" cy="282.5" r="2.5" fill="#1F9D95"/>
<circle cx="874.5" cy="279.6" r="2.5" fill="#DB3058"/>
<circle cx="874.5" cy="288.8" r="2.5" fill="#DB3058"/>
<circle cx="875.9" cy="271.6" r="2.5" fill="#7E5FF0"/>
<circle cx="877.7" cy="299.3" r="2.5" fill="#DB3058"/>
<circle cx="877.7" cy="308.2" r="2.5" fill="#DB3058"/>
<circle cx="878.9" cy="291.3" r="2.5" fill="#7E5FF0"/>
<circle cx="880.2" cy="283.6" r="2.5" fill="#DB3058"/>
<circle cx="883.4" cy="304.2" r="2.5" fill="#DB3058"/>
<circle cx="885.6" cy="282.2" r="2.5" fill="#7E5FF0"/>
<circle cx="886.2" cy="298.5" r="2.5" fill="#7E5FF0"/>
<circle cx="888" cy="274.7" r="2.5" fill="#DB3058"/>
<circle cx="888" cy="287.4" r="2.5" fill="#1F9D95"/>
<circle cx="888.8" cy="303.1" r="2.5" fill="#7E5FF0"/>
<circle cx="891.3" cy="295" r="2.5" fill="#DB3058"/>
<circle cx="891.3" cy="308.2" r="2.5" fill="#1F9D95"/>
<circle cx="892.6" cy="279.8" r="2.5" fill="#DB3058"/>
<circle cx="892.6" cy="288.8" r="2.5" fill="#DB3058"/>
<circle cx="893.7" cy="271.8" r="2.5" fill="#7E5FF0"/>
<circle cx="895.7" cy="303.1" r="2.5" fill="#1F9D95"/>
<circle cx="895.7" cy="300.4" r="2.5" fill="#DB3058"/>
<circle cx="895.9" cy="309.6" r="2.5" fill="#DB3058"/>
<circle cx="897.1" cy="292.5" r="2.5" fill="#7E5FF0"/>
<circle cx="979.3" cy="270.4" r="2.5" fill="#DB3058"/>
<circle cx="982.2" cy="276.9" r="2.5" fill="#7E5FF0"/>
<circle cx="987.3" cy="274.4" r="2.5" fill="#1F9D95"/>
<circle cx="989.9" cy="284.6" r="2.5" fill="#DB3058"/>
<circle cx="987.3" cy="261.4" r="2.5" fill="#DB3058"/>
<circle cx="991.9" cy="266.3" r="2.5" fill="#DB3058"/>
<circle cx="991.9" cy="275.5" r="2.5" fill="#DB3058"/>
<circle cx="993.1" cy="258.7" r="2.5" fill="#7E5FF0"/>
<circle cx="995.7" cy="254.9" r="2.5" fill="#DB3058"/>
<circle cx="998.2" cy="248.4" r="2.5" fill="#1F9D95"/>
<circle cx="998.4" cy="261.4" r="2.5" fill="#7E5FF0"/>
<circle cx="999" cy="274.4" r="2.5" fill="#DB3058"/>
<circle cx="1000.8" cy="253.5" r="2.5" fill="#7E5FF0"/>
<circle cx="1000.8" cy="269.8" r="2.5" fill="#7E5FF0"/>
<circle cx="1003.1" cy="246" r="2.5" fill="#DB3058"/>
<circle cx="1005.6" cy="245.5" r="2.5" fill="#1F9D95"/>
<circle cx="1003.4" cy="258.7" r="2.5" fill="#1F9D95"/>
<circle cx="1006.6" cy="265.2" r="2.5" fill="#DB3058"/>
<circle cx="1006.6" cy="278" r="2.5" fill="#1F9D95"/>
<circle cx="1009.6" cy="248.6" r="2.5" fill="#1F9D95"/>
<circle cx="1007.9" cy="253.8" r="2.5" fill="#1F9D95"/>
<circle cx="1007.9" cy="250.9" r="2.5" fill="#DB3058"/>
<circle cx="1007.9" cy="260.1" r="2.5" fill="#DB3058"/>
<circle cx="1009.3" cy="242.9" r="2.5" fill="#7E5FF0"/>
<circle cx="1011.1" cy="270.6" r="2.5" fill="#DB3058"/>
<circle cx="1011.1" cy="279.5" r="2.5" fill="#DB3058"/>
<circle cx="1012.3" cy="262.6" r="2.5" fill="#7E5FF0"/>
<circle cx="1013.6" cy="254.9" r="2.5" fill="#DB3058"/>
<circle cx="1016.8" cy="275.5" r="2.5" fill="#DB3058"/>
<circle cx="1019" cy="253.5" r="2.5" fill="#7E5FF0"/>
<circle cx="1019.6" cy="269.8" r="2.5" fill="#7E5FF0"/>
<circle cx="1021.4" cy="246" r="2.5" fill="#DB3058"/>
<circle cx="1021.4" cy="258.7" r="2.5" fill="#1F9D95"/>
<circle cx="1022.2" cy="274.4" r="2.5" fill="#7E5FF0"/>
<circle cx="1024.7" cy="266.3" r="2.5" fill="#DB3058"/>
<circle cx="1024.7" cy="279.5" r="2.5" fill="#1F9D95"/>
<circle cx="1026" cy="251.1" r="2.5" fill="#DB3058"/>
<circle cx="1026" cy="260.1" r="2.5" fill="#DB3058"/>
<circle cx="1027.1" cy="243.1" r="2.5" fill="#7E5FF0"/>
<circle cx="1029.1" cy="274.4" r="2.5" fill="#1F9D95"/>
<circle cx="1029.1" cy="271.7" r="2.5" fill="#DB3058"/>
<circle cx="1029.3" cy="280.9" r="2.5" fill="#DB3058"/>
<circle cx="1030.5" cy="263.8" r="2.5" fill="#7E5FF0"/>
<circle cx="905.5" cy="296.9" r="2.5" fill="#DB3058"/>
<circle cx="908.4" cy="303.4" r="2.5" fill="#7E5FF0"/>
<circle cx="913.5" cy="300.9" r="2.5" fill="#1F9D95"/>
<circle cx="916.1" cy="311.1" r="2.5" fill="#DB3058"/>
<circle cx="913.5" cy="287.9" r="2.5" fill="#DB3058"/>
<circle cx="918.1" cy="292.8" r="2.5" fill="#DB3058"/>
<circle cx="918.1" cy="302" r="2.5" fill="#DB3058"/>
<circle cx="919.3" cy="285.2" r="2.5" fill="#7E5FF0"/>
<circle cx="921.9" cy="281.4" r="2.5" fill="#DB3058"/>
<circle cx="924.4" cy="274.9" r="2.5" fill="#1F9D95"/>
<circle cx="924.6" cy="287.9" r="2.5" fill="#7E5FF0"/>
<circle cx="925.2" cy="300.9" r="2.5" fill="#DB3058"/>
<circle cx="927" cy="280" r="2.5" fill="#7E5FF0"/>
<circle cx="927" cy="296.3" r="2.5" fill="#7E5FF0"/>
<circle cx="929.3" cy="272.5" r="2.5" fill="#DB3058"/>
<circle cx="931.8" cy="272" r="2.5" fill="#1F9D95"/>
<circle cx="929.6" cy="285.2" r="2.5" fill="#1F9D95"/>
<circle cx="932.8" cy="291.7" r="2.5" fill="#DB3058"/>
<circle cx="932.8" cy="304.5" r="2.5" fill="#1F9D95"/>
<circle cx="935.8" cy="275.1" r="2.5" fill="#1F9D95"/>
<circle cx="934.1" cy="280.3" r="2.5" fill="#1F9D95"/>
<circle cx="934.1" cy="277.4" r="2.5" fill="#DB3058"/>
<circle cx="934.1" cy="286.6" r="2.5" fill="#DB3058"/>
<circle cx="935.5" cy="269.4" r="2.5" fill="#7E5FF0"/>
<circle cx="937.3" cy="297.1" r="2.5" fill="#DB3058"/>
<circle cx="937.3" cy="306" r="2.5" fill="#DB3058"/>
<circle cx="938.5" cy="289.1" r="2.5" fill="#7E5FF0"/>
<circle cx="939.8" cy="281.4" r="2.5" fill="#DB3058"/>
<circle cx="943" cy="302" r="2.5" fill="#DB3058"/>
<circle cx="945.2" cy="280" r="2.5" fill="#7E5FF0"/>
<circle cx="945.8" cy="296.3" r="2.5" fill="#7E5FF0"/>
<circle cx="947.6" cy="272.5" r="2.5" fill="#DB3058"/>
<circle cx="947.6" cy="285.2" r="2.5" fill="#1F9D95"/>
<circle cx="948.4" cy="300.9" r="2.5" fill="#7E5FF0"/>
<circle cx="950.9" cy="292.8" r="2.5" fill="#DB3058"/>
<circle cx="950.9" cy="306" r="2.5" fill="#1F9D95"/>
<circle cx="952.2" cy="277.6" r="2.5" fill="#DB3058"/>
<circle cx="952.2" cy="286.6" r="2.5" fill="#DB3058"/>
<circle cx="953.3" cy="269.6" r="2.5" fill="#7E5FF0"/>
<circle cx="955.3" cy="300.9" r="2.5" fill="#1F9D95"/>
<circle cx="955.3" cy="298.2" r="2.5" fill="#DB3058"/>
<circle cx="955.5" cy="307.4" r="2.5" fill="#DB3058"/>
<circle cx="956.7" cy="290.3" r="2.5" fill="#7E5FF0"/>
</g>
</svg>
</body>
</html>
